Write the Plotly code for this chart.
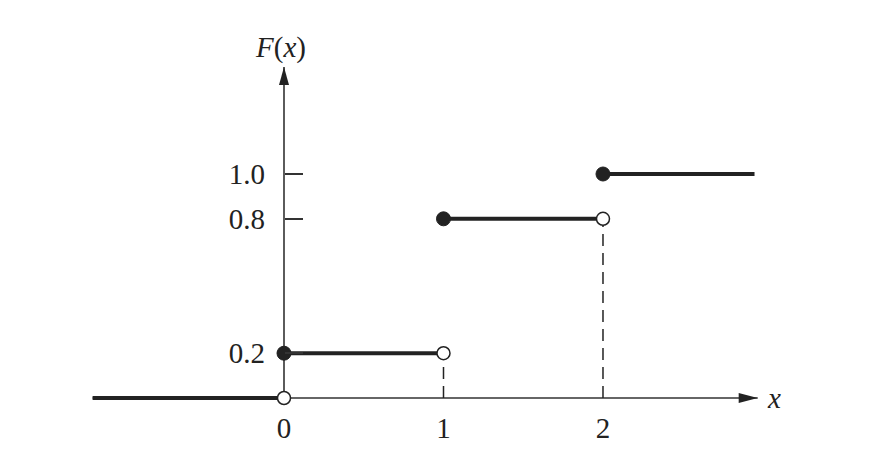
import plotly.graph_objects as go

# step CDF: jumps at x = 0, 1, 2
jump_x = [0, 1, 2]
levels = [0, 0.2, 0.8, 1.0]          # F(x) on each interval
x_left, x_right = -1.2, 2.95          # drawn extent of the first / last step
y_ticks = [0.2, 0.8, 1.0]
y_ticktext = ["0.2", "0.8", "1.0"]
x_ticks = [0, 1, 2]

INK = "#222222"
FONT = "Liberation Serif"

edges = [x_left] + jump_x + [x_right]

fig = go.Figure()

# dashed drop lines under the open circles
for xj, lo in zip(jump_x[1:], levels[1:-1]):
    fig.add_trace(go.Scatter(x=[xj, xj], y=[0, lo], mode="lines",
                             line=dict(color=INK, width=1.5, dash="12px,7px"),
                             hoverinfo="skip", showlegend=False))

# horizontal steps
sx, sy = [], []
for i, lv in enumerate(levels):
    sx += [edges[i], edges[i + 1], None]
    sy += [lv, lv, None]
fig.add_trace(go.Scatter(x=sx, y=sy, mode="lines",
                         line=dict(color=INK, width=4),
                         hoverinfo="skip", showlegend=False))

# open circles (left limits) and filled dots (values at the jump)
fig.add_trace(go.Scatter(x=jump_x, y=levels[:-1], mode="markers",
                         marker=dict(size=13, color="white", line=dict(color=INK, width=1.5)),
                         showlegend=False))
fig.add_trace(go.Scatter(x=jump_x, y=levels[1:], mode="markers",
                         marker=dict(size=14, color=INK, line=dict(color=INK, width=1)),
                         showlegend=False))

# axis lines (below the traces) with narrow arrow heads
x_tip, y_tip = 2.97, 1.478
fig.add_shape(type="line", x0=x_left, x1=x_tip, y0=0, y1=0,
              line=dict(color="#333333", width=1.6), layer="below")
fig.add_shape(type="line", x0=0, x1=0, y0=0, y1=y_tip,
              line=dict(color="#333333", width=1.6), layer="below")
fig.add_shape(type="path", xsizemode="pixel", ysizemode="pixel",
              xanchor=x_tip, yanchor=0, path="M0,0 L-19,5 L-19,-5 Z",
              fillcolor="#222222", line=dict(width=0))
fig.add_shape(type="path", xsizemode="pixel", ysizemode="pixel",
              xanchor=0, yanchor=y_tip, path="M0,0 L-5,-18 L5,-18 Z",
              fillcolor="#222222", line=dict(width=0))

fig.add_annotation(x=-0.02, y=1.567, text="<i>F</i>(<i>x</i>)", showarrow=False,
                   font=dict(family=FONT, size=29, color=INK))
fig.add_annotation(x=3.07, y=0, text="<i>x</i>", showarrow=False,
                   font=dict(family=FONT, size=29, color=INK))

fig.update_layout(
    width=896, height=463,
    margin=dict(l=0, r=0, t=0, b=0),
    paper_bgcolor="white", plot_bgcolor="white",
    font=dict(family=FONT, size=29, color=INK),
    xaxis=dict(range=[-1.7304, 3.8872], showgrid=False, zeroline=False, showline=False,
               tickvals=x_ticks, ticks="", anchor="free", position=73 / 463,
               ticklabelstandoff=10, automargin=False, fixedrange=True),
    yaxis=dict(range=[-0.3259, 1.7411], showgrid=False, zeroline=False, showline=False,
               tickvals=y_ticks, ticktext=y_ticktext, ticks="inside", ticklen=18,
               tickwidth=1.5, tickcolor="#333333", anchor="free", position=276 / 896,
               ticklabelstandoff=19, automargin=False, fixedrange=True),
)

fig.write_html("out.html")
